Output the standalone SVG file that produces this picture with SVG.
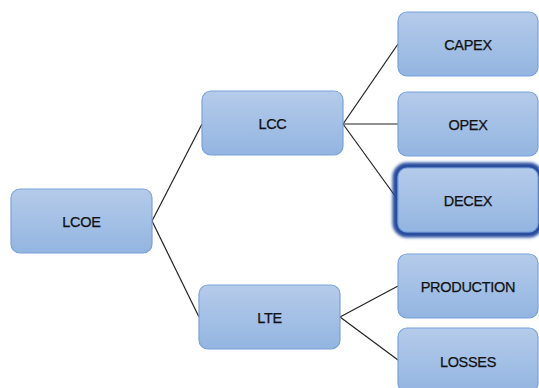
<svg xmlns="http://www.w3.org/2000/svg" width="539" height="388" viewBox="0 0 539 388">
  <defs>
    <linearGradient id="boxFill" x1="0" y1="0" x2="0" y2="1">
      <stop offset="0" stop-color="#b5cbea"/>
      <stop offset="1" stop-color="#93b5e1"/>
    </linearGradient>
    <filter id="glow" x="-20%" y="-30%" width="140%" height="160%">
      <feGaussianBlur stdDeviation="1.8"/>
    </filter>
  </defs>
  <style>
    .box { fill: url(#boxFill); stroke: #79a2db; stroke-width: 1.2; }
    .lbl { font-family: "Liberation Sans", Arial, sans-serif; font-size: 14.5px; letter-spacing: -0.3px; fill: #111; stroke: #111; stroke-width: 0.25; text-anchor: middle; dominant-baseline: central; }
    .link { stroke: #222; stroke-width: 1.2; fill: none; }
  </style>
  <rect width="539" height="388" fill="#ffffff"/>

  <g id="connectors">
    <line class="link" x1="152" y1="221" x2="202" y2="124"/>
    <line class="link" x1="152" y1="221" x2="199" y2="317"/>
    <line class="link" x1="343" y1="124" x2="398" y2="44"/>
    <line class="link" x1="343" y1="124" x2="398" y2="124"/>
    <line class="link" x1="343" y1="124" x2="398" y2="200"/>
    <line class="link" x1="340" y1="317" x2="398" y2="286"/>
    <line class="link" x1="340" y1="317" x2="398" y2="360"/>
  </g>

  <g id="lcoe">
    <rect class="box" x="11" y="189" width="141" height="64" rx="9"/>
    <text class="lbl" x="81.5" y="222">LCOE</text>
  </g>
  <g id="lcc">
    <rect class="box" x="202" y="91" width="141" height="64" rx="9"/>
    <text class="lbl" x="272.5" y="124">LCC</text>
  </g>
  <g id="lte">
    <rect class="box" x="199" y="285" width="141" height="64" rx="9"/>
    <text class="lbl" x="269.5" y="318">LTE</text>
  </g>
  <g id="capex">
    <rect class="box" x="398" y="12" width="140" height="64" rx="9"/>
    <text class="lbl" x="468" y="45">CAPEX</text>
  </g>
  <g id="opex">
    <rect class="box" x="398" y="92" width="140" height="64" rx="9"/>
    <text class="lbl" x="468" y="125">OPEX</text>
  </g>
  <g id="decex">
    <rect x="396" y="166" width="144" height="68" rx="11" fill="none" stroke="#254c9e" stroke-width="7" filter="url(#glow)"/>
    <rect class="box" x="398" y="168" width="140" height="64" rx="9" stroke="#2f5aab" stroke-width="2"/>
    <text class="lbl" x="468" y="201">DECEX</text>
  </g>
  <g id="production">
    <rect class="box" x="398" y="254" width="140" height="64" rx="9"/>
    <text class="lbl" x="468" y="287">PRODUCTION</text>
  </g>
  <g id="losses">
    <rect class="box" x="398" y="328" width="140" height="64" rx="9"/>
    <text class="lbl" x="468" y="362">LOSSES</text>
  </g>
</svg>
